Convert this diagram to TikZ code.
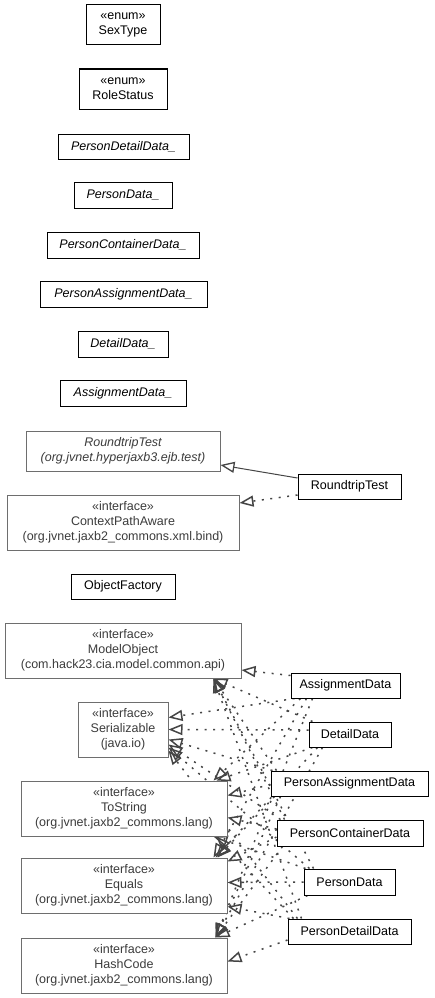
\documentclass[tikz,border=0pt]{standalone}
\usepackage{fontspec}
\setmainfont{Liberation Sans}
\usetikzlibrary{arrows.meta,backgrounds}
\definecolor{extborder}{HTML}{6E6E6E}
\definecolor{exttext}{HTML}{3C3C3C}
\definecolor{edgecol}{HTML}{454545}
\begin{document}
\begin{tikzpicture}[x=1pt,y=-1pt,
  every node/.style={font=\fontsize{12.5}{15}\selectfont, inner sep=0pt, align=center},
  cls/.style={draw=black, line width=1pt, fill=white, text=black},
  abs/.style={cls, font=\fontsize{12.5}{15}\selectfont\itshape},
  ext/.style={draw=extborder, line width=1pt, fill=white, text=exttext},
  impl/.style={draw=edgecol, line width=1.5pt, dash pattern=on 2pt off 6.5pt,
    -{Triangle[open, length=14pt, width=11pt, line width=1.5pt]}},
  inherit/.style={draw=edgecol, line width=1pt,
    -{Triangle[open, length=14pt, width=11pt, line width=1.3pt]}}]
\path[use as bounding box] (0,0) rectangle (435,998);

% enums and abstract base classes
\node[cls, minimum width=74pt, minimum height=40pt] (sex) at (123,25) {«enum»\\SexType};
\node[cls, minimum width=88pt, minimum height=40pt] (role) at (123,89) {«enum»\\RoleStatus};
\node[abs, minimum width=131pt, minimum height=25pt] (pdd_) at (123.5,146.5) {PersonDetailData\_};
\node[abs, minimum width=98pt, minimum height=26pt] (pd_) at (123,195) {PersonData\_};
\node[abs, minimum width=152pt, minimum height=26pt] (pcd_) at (123,245) {PersonContainerData\_};
\node[abs, minimum width=167pt, minimum height=26pt] (pad_) at (123.5,294) {PersonAssignmentData\_};
\node[abs, minimum width=90pt, minimum height=26pt] (dd_) at (123,344) {DetailData\_};
\node[abs, minimum width=126pt, minimum height=26pt] (ad_) at (123,393) {AssignmentData\_};

% test classes
\node[ext, minimum width=194pt, minimum height=40pt, font=\fontsize{12.5}{15}\selectfont\itshape] (rtsuper) at (123,451) {RoundtripTest\\(org.jvnet.hyperjaxb3.ejb.test)};
\node[cls, minimum width=103pt, minimum height=25pt] (rt) at (349.5,486.5) {RoundtripTest};
\node[ext, minimum width=232pt, minimum height=55pt] (cpa) at (123,522.5) {«interface»\\ContextPathAware\\(org.jvnet.jaxb2\_commons.xml.bind)};
\node[cls, minimum width=104pt, minimum height=25pt] (of) at (123,586.5) {ObjectFactory};

% interfaces
\node[ext, minimum width=236pt, minimum height=55pt] (mo) at (123,650.5) {«interface»\\ModelObject\\(com.hack23.cia.model.common.api)};
\node[ext, minimum width=90pt, minimum height=55pt] (ser) at (123,729.5) {«interface»\\Serializable\\(java.io)};
\node[ext, minimum width=206pt, minimum height=55pt] (ts) at (124,808.5) {«interface»\\ToString\\(org.jvnet.jaxb2\_commons.lang)};
\node[ext, minimum width=206pt, minimum height=55pt] (eq) at (124,885.5) {«interface»\\Equals\\(org.jvnet.jaxb2\_commons.lang)};
\node[ext, minimum width=206pt, minimum height=55pt] (hc) at (124,965.5) {«interface»\\HashCode\\(org.jvnet.jaxb2\_commons.lang)};

% data classes
\node[cls, minimum width=109pt, minimum height=25pt] (ad) at (345.5,685.5) {AssignmentData};
\node[cls, minimum width=82pt, minimum height=25pt] (dd) at (350,734.5) {DetailData};
\node[cls, minimum width=157pt, minimum height=25pt] (pad) at (349.5,783.5) {PersonAssignmentData};
\node[cls, minimum width=146pt, minimum height=26pt] (pcd) at (350,833) {PersonContainerData};
\node[cls, minimum width=91pt, minimum height=26pt] (pd) at (349.5,882) {PersonData};
\node[cls, minimum width=123pt, minimum height=25pt] (pdd) at (349.5,931.5) {PersonDetailData};

\begin{pgfonlayer}{background}
% test relations
\draw[inherit] ([yshift=8.5pt]rt.west) -- ([yshift=-14pt]rtsuper.east);
\draw[impl] ([yshift=-8.5pt]rt.west) -- ([yshift=19.5pt]cpa.east);

% AssignmentData
\draw[impl] ([yshift=-3pt]ad.north west) -- ([yshift=-19.5pt]mo.east);
\draw[impl] ([xshift=4pt]ad.south west) -- ([yshift=-16pt]ser.north east);
\draw[impl] ([xshift=10pt]ad.south west) -- ([xshift=-14pt]ts.north east);
\draw[impl] ([xshift=16pt]ad.south west) -- ([xshift=-14pt]eq.north east);
\draw[impl] ([xshift=22pt]ad.south west) -- ([xshift=-12pt]hc.north east);

% DetailData
\draw[impl] ([xshift=4pt]dd.north west) -- ([xshift=-28pt]mo.south east);
\draw[impl] ([yshift=4.5pt]dd.west) -- ([yshift=-28pt]ser.north east);
\draw[impl] ([xshift=4pt]dd.south west) -- ([xshift=-11pt]ts.north east);
\draw[impl] ([xshift=9pt]dd.south west) -- ([xshift=-12pt]eq.north east);
\draw[impl] ([xshift=14pt]dd.south west) -- ([xshift=-12pt]hc.north east);

% PersonAssignmentData
\draw[impl] ([xshift=6pt]pad.north west) -- ([xshift=-28pt]mo.south east);
\draw[impl] ([xshift=2pt]pad.north west) -- ([yshift=-38pt]ser.north east);
\draw[impl] ([yshift=-1pt]pad.west) -- ([yshift=-15pt]ts.north east);
\draw[impl] ([xshift=4pt]pad.south west) -- ([xshift=-10pt]eq.north east);
\draw[impl] ([xshift=10pt]pad.south west) -- ([xshift=-12pt]hc.north east);

% PersonContainerData
\draw[impl] ([xshift=8pt]pcd.north west) -- ([xshift=-28pt]mo.south east);
\draw[impl] ([xshift=4pt]pcd.north west) -- ([yshift=-43pt]ser.north east);
\draw[impl] ([yshift=4pt]pcd.west) -- ([yshift=-37pt]ts.north east);
\draw[impl] ([yshift=-4pt]pcd.west) -- ([yshift=-4pt]eq.north east);
\draw[impl] ([xshift=6pt]pcd.south west) -- ([xshift=-12pt]hc.north east);

% PersonData
\draw[impl] ([xshift=10pt]pd.north west) -- ([xshift=-28pt]mo.south east);
\draw[impl] ([xshift=6pt]pd.north west) -- ([yshift=-46pt]ser.north east);
\draw[impl] ([xshift=2pt]pd.north west) -- ([xshift=-14pt]ts.south east);
\draw[impl] (pd.west) -- ([yshift=-25pt]eq.north east);
\draw[impl] ([xshift=4pt]pd.south west) -- ([xshift=-12pt]hc.north east);

% PersonDetailData
\draw[impl] ([xshift=14pt]pdd.north west) -- ([xshift=-28pt]mo.south east);
\draw[impl] ([xshift=10pt]pdd.north west) -- ([yshift=-49pt]ser.north east);
\draw[impl] ([xshift=6pt]pdd.north west) -- ([xshift=-11pt]ts.south east);
\draw[impl] ([xshift=2pt]pdd.north west) -- ([yshift=-49pt]eq.north east);
\draw[impl] ([yshift=-8.5pt]pdd.west) -- ([yshift=-24pt]hc.north east);
\end{pgfonlayer}
\end{tikzpicture}
\end{document}
